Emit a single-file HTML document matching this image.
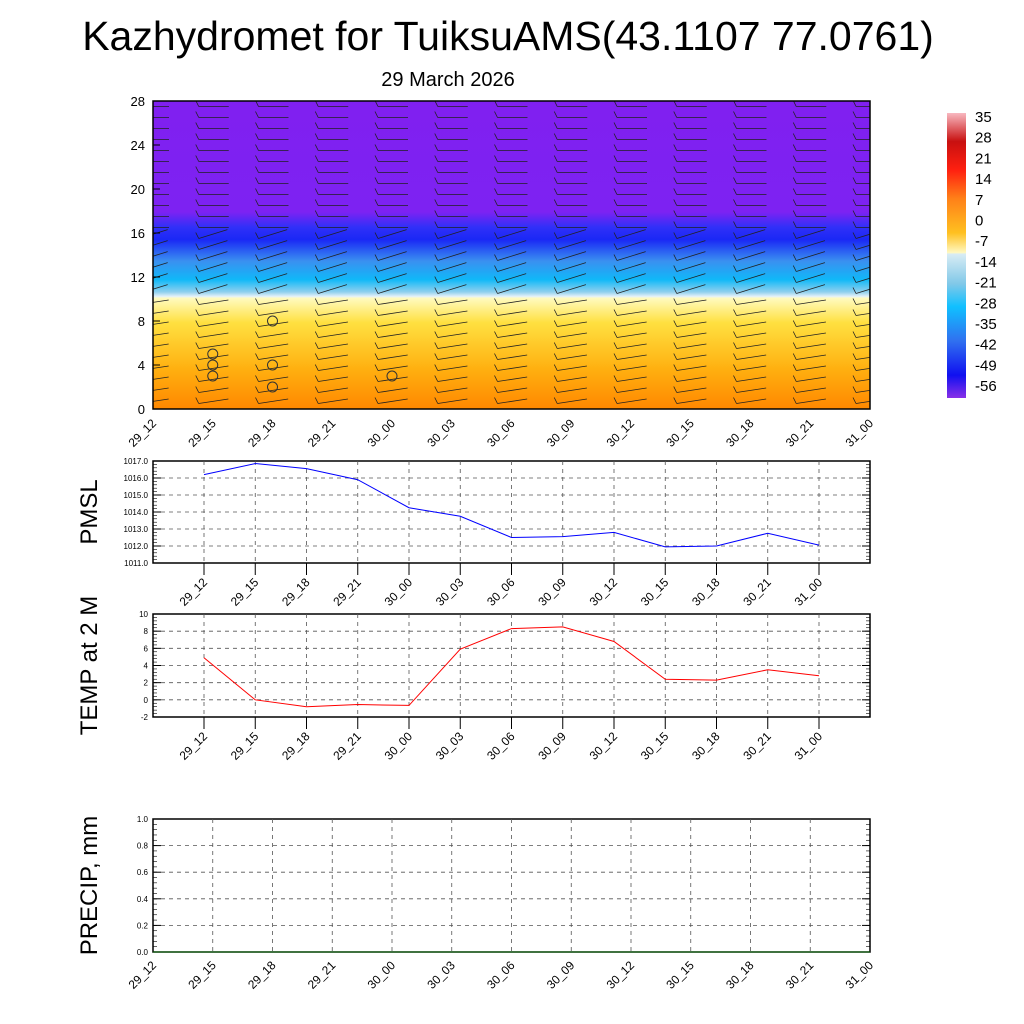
<!DOCTYPE html>
<html><head><meta charset="utf-8"><style>
body{margin:0;background:#fff}
svg{display:block;font-family:"Liberation Sans",sans-serif}
</style></head><body>
<svg id="c" width="1024" height="1024" viewBox="0 0 1024 1024">
<defs>
<clipPath id="pc"><rect x="153" y="101" width="717" height="308"/></clipPath>
<linearGradient id="tg" x1="0" y1="0" x2="0" y2="1">
<stop offset="0" stop-color="#8020f0"/><stop offset="0.36" stop-color="#7d22f2"/>
<stop offset="0.41" stop-color="#3030f8"/><stop offset="0.45" stop-color="#1a28f5"/>
<stop offset="0.52" stop-color="#3a90f0"/><stop offset="0.58" stop-color="#10b8f8"/>
<stop offset="0.62" stop-color="#90d0ee"/><stop offset="0.635" stop-color="#e6f2f8"/>
<stop offset="0.64" stop-color="#fffbc0"/><stop offset="0.72" stop-color="#ffe040"/>
<stop offset="0.87" stop-color="#ffb010"/><stop offset="1" stop-color="#ff8800"/>
</linearGradient>
<linearGradient id="cb" x1="0" y1="0" x2="0" y2="1">
<stop offset="0" stop-color="#f8b8c0"/><stop offset="0.1" stop-color="#c81010"/>
<stop offset="0.2" stop-color="#ff2010"/><stop offset="0.3" stop-color="#ff8018"/>
<stop offset="0.42" stop-color="#ffc020"/><stop offset="0.49" stop-color="#fff8c0"/>
<stop offset="0.495" stop-color="#d8ecf4"/><stop offset="0.6" stop-color="#80c8e8"/>
<stop offset="0.68" stop-color="#10c0ff"/><stop offset="0.8" stop-color="#3070f0"/>
<stop offset="0.92" stop-color="#1010f0"/><stop offset="1" stop-color="#8830e8"/>
</linearGradient>
</defs>
<text x="508" y="50" font-size="41" text-anchor="middle">Kazhydromet for TuiksuAMS(43.1107 77.0761)</text>
<text x="448" y="86" font-size="20" text-anchor="middle">29 March 2026</text>
<rect x="153" y="101" width="717" height="308" fill="url(#tg)"/>
<g id="barbs" clip-path="url(#pc)"></g>
<rect x="153" y="101" width="717" height="308" fill="none" stroke="#000" stroke-width="1.5"/>
<g id="top-axes"></g>
<rect x="947" y="113" width="19" height="285" fill="url(#cb)"/>
<g id="cbl"></g>
<g id="pm"></g><g id="tp"></g><g id="pr"></g>
</svg>
<script>
const NS="http://www.w3.org/2000/svg";
const svg=document.getElementById('c');
function el(t,a,p){const e=document.createElementNS(NS,t);for(const k in a)e.setAttribute(k,a[k]);(p||svg).appendChild(e);return e;}
const times=["29_12","29_15","29_18","29_21","30_00","30_03","30_06","30_09","30_12","30_15","30_18","30_21","31_00"];
const pmsl=[1016.2,1016.85,1016.55,1015.9,1014.25,1013.75,1012.5,1012.55,1012.8,1011.95,1012.0,1012.75,1012.05];
const temp=[4.9,0,-0.8,-0.55,-0.65,5.9,8.3,8.5,6.8,2.4,2.3,3.5,2.8];
const precip=[0,0,0,0,0,0,0,0,0,0,0,0,0];
const heightTicks=[0,4,8,12,16,20,24,28];
const cbLabels=["35","28","21","14","7","0","-7","-14","-21","-28","-35","-42","-49","-56"];
const cloudCols=[1,1,1,2,2,2,4];
const cloudLevels=[3,4,5,2,4,8,3];

const tx=i=>153+i*717/12, ty=v=>409-v*308/28;
const ta=document.getElementById('top-axes');
heightTicks.forEach(v=>{const t=el('text',{x:145,y:ty(v)+5,'font-size':13,'text-anchor':'end'},ta);t.textContent=v;
 el('line',{x1:153,x2:160,y1:ty(v),y2:ty(v),stroke:'#000'},ta);});
times.forEach((s,i)=>{const x=tx(i);const t=el('text',{x:x+4,y:424,'font-size':12,'text-anchor':'end',transform:`rotate(-45 ${x+4} 424)`},ta);t.textContent=s;});
const bg=document.getElementById('barbs');
for(let i=0;i<13;i++)for(let h=0;h<28;h++){const x=tx(i),y=ty(h+0.5);
 const a=(h>=10&&h<=15)?-0.3:(h<10?-0.15:0);
 const dx=30*Math.cos(a),dy=30*Math.sin(a);
 el('line',{x1:x-14,y1:y,x2:x-14+dx,y2:y+dy,stroke:'#222','stroke-width':0.8},bg);
 el('line',{x1:x-14,y1:y,x2:x-17,y2:y-6,stroke:'#222','stroke-width':0.8},bg);}
cloudCols.forEach((c,k)=>{el('circle',{cx:tx(c),cy:ty(cloudLevels[k]),r:5,fill:'none',stroke:'#333'},bg);});
const cl=document.getElementById('cbl');
cbLabels.forEach((s,k)=>{const t=el('text',{x:975,y:122+k*20.7,'font-size':15},cl);t.textContent=s;});

function linePanel(g,top,bot,min,max,ticks,fmt,vals,color,title,tname,labelX0,labelStep){
 const G=document.getElementById(g);
 const y=v=>bot-(v-min)/(max-min)*(bot-top);
 const px=i=>204+i*51.25;
 el('rect',{x:153,y:top,width:717,height:bot-top,fill:'none',stroke:'#000','stroke-width':1.5},G);
 ticks.forEach(v=>{if(v>min&&v<max)el('line',{x1:153,x2:870,y1:y(v),y2:y(v),stroke:'#555','stroke-dasharray':'4 4','stroke-width':0.8},G);
  const t=el('text',{x:148,y:y(v)+3,'font-size':8,'text-anchor':'end'},G);t.textContent=fmt(v);
  el('line',{x1:153,x2:161,y1:y(v),y2:y(v),stroke:'#000'},G);el('line',{x1:862,x2:870,y1:y(v),y2:y(v),stroke:'#000'},G);});
 const n=(ticks.length-1)*5;for(let k=0;k<=n;k++){const yy=bot-k*(bot-top)/n;el('line',{x1:153,x2:157,y1:yy,y2:yy,stroke:'#000','stroke-width':0.6},G);el('line',{x1:866,x2:870,y1:yy,y2:yy,stroke:'#000','stroke-width':0.6},G);}
 times.forEach((s,i)=>{const x=labelX0+i*labelStep;
  if(labelStep<55) {el('line',{x1:x,x2:x,y1:top,y2:bot,stroke:'#555','stroke-dasharray':'4 4','stroke-width':0.8},G);el('line',{x1:x,x2:x,y1:bot,y2:bot+12,stroke:'#000'},G);}
  else if(i>0&&i<12) el('line',{x1:x,x2:x,y1:top,y2:bot,stroke:'#555','stroke-dasharray':'4 4','stroke-width':0.8},G);
  const ly=bot+(labelStep<55?20:14);const t=el('text',{x:x+4,y:ly,'font-size':12,'text-anchor':'end',transform:`rotate(-45 ${x+4} ${ly})`},G);t.textContent=s;});
 const pts=vals.map((v,i)=>(labelStep<55?px(i):tx(i))+','+y(v)).join(' ');
 const pl=el('polyline',{points:pts,fill:'none',stroke:color,'stroke-width':1},G);
 
 
 const tt=el('text',{x:0,y:0,'font-size':24,'text-anchor':'middle',transform:`translate(${97} ${(top+bot)/2}) rotate(-90)`},G);tt.textContent=title;
}
linePanel('pm',461,563,1011,1017,[1011,1012,1013,1014,1015,1016,1017],v=>v.toFixed(1),pmsl,'#0000ff','PMSL','pmsl-line',204,51.25);
linePanel('tp',614,717,-2,10,[-2,0,2,4,6,8,10],v=>v,temp,'#ff0000','TEMP at 2 M','temp-line',204,51.25);
linePanel('pr',819,952,0,1,[0,0.2,0.4,0.6,0.8,1],v=>v.toFixed(1),precip,'#006400','PRECIP, mm','precip-line',153,59.75);
</script>
</body></html>
